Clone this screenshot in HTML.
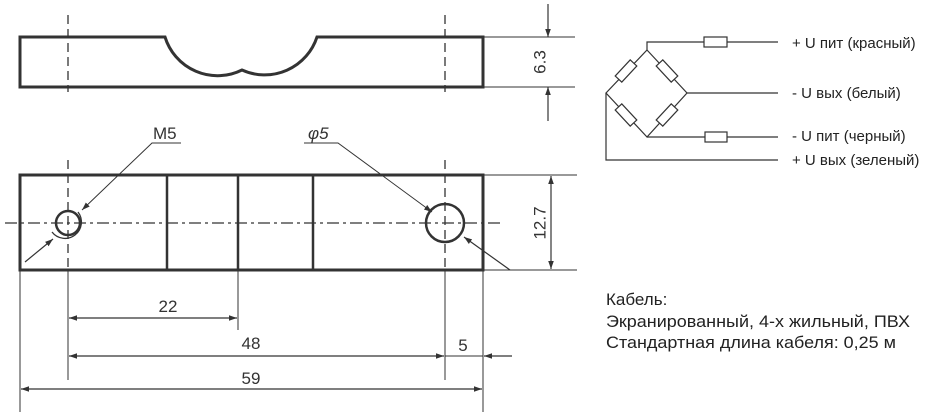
<!DOCTYPE html>
<html><head><meta charset="utf-8"><style>html,body{margin:0;padding:0;background:#fff}svg{display:block}</style></head>
<body>
<svg width="935" height="420" viewBox="0 0 935 420" xmlns="http://www.w3.org/2000/svg" font-family="Liberation Sans, Arial, sans-serif">
<defs>
<marker id="a" viewBox="0 0 10 10" refX="10" refY="5" markerWidth="8" markerHeight="8" orient="auto-start-reverse" markerUnits="userSpaceOnUse"><path d="M0,1.5 L10,5 L0,8.5 z" fill="#333"/></marker>
</defs>
<g stroke="#333" fill="none">
<path d="M20,37 H165 A55,55 0 0 0 242,70 A55,55 0 0 0 317,37 H483 V87 H20 Z" stroke-width="3"/>
<line x1="68" y1="15" x2="68" y2="92" stroke-width="1.3" stroke-dasharray="9,5"/>
<line x1="445" y1="15" x2="445" y2="92" stroke-width="1.3" stroke-dasharray="9,5"/>
<line x1="483" y1="37" x2="575" y2="37" stroke-width="1"/>
<line x1="483" y1="87" x2="575" y2="87" stroke-width="1"/>
<line x1="548" y1="4" x2="548" y2="37" stroke-width="1.2" marker-end="url(#a)"/>
<line x1="548" y1="121" x2="548" y2="87" stroke-width="1.2" marker-end="url(#a)"/>
<rect x="20" y="175" width="463" height="95" stroke-width="3"/>
<line x1="167" y1="175" x2="167" y2="270" stroke-width="2.5"/>
<line x1="238" y1="175" x2="238" y2="270" stroke-width="2.5"/>
<line x1="313" y1="175" x2="313" y2="270" stroke-width="2.5"/>
<line x1="5" y1="223" x2="500" y2="223" stroke-width="1.3" stroke-dasharray="12,4,3,4"/>
<line x1="68" y1="160" x2="68" y2="270" stroke-width="1.3" stroke-dasharray="9,5"/>
<line x1="445" y1="160" x2="445" y2="270" stroke-width="1.3" stroke-dasharray="9,5"/>
<circle cx="68" cy="223" r="12" stroke-width="2.5"/>
<path d="M78,212 A16,16 0 1 1 52,232" stroke-width="1.3"/>
<circle cx="445" cy="223" r="19" stroke-width="2.5"/>
<line x1="483" y1="175" x2="577" y2="175" stroke-width="1"/>
<line x1="483" y1="270" x2="577" y2="270" stroke-width="1"/>
<line x1="551" y1="176" x2="551" y2="269" stroke-width="1.2" marker-start="url(#a)" marker-end="url(#a)"/>
<polyline points="181,143 152,143 82,210" stroke-width="1" marker-end="url(#a)"/>
<line x1="25" y1="262" x2="53" y2="239" stroke-width="1.2" marker-end="url(#a)"/>
<polyline points="304,143 338,143 432,212" stroke-width="1" marker-end="url(#a)"/>
<line x1="510" y1="270" x2="464" y2="237" stroke-width="1.2" marker-end="url(#a)"/>
<line x1="20" y1="270" x2="20" y2="412" stroke-width="1"/>
<line x1="68" y1="270" x2="68" y2="380" stroke-width="1"/>
<line x1="238" y1="270" x2="238" y2="330" stroke-width="1"/>
<line x1="445" y1="270" x2="445" y2="380" stroke-width="1"/>
<line x1="483" y1="270" x2="483" y2="412" stroke-width="1"/>
<line x1="69" y1="318" x2="237" y2="318" stroke-width="1.2" marker-start="url(#a)" marker-end="url(#a)"/>
<line x1="69" y1="356" x2="444" y2="356" stroke-width="1.2" marker-start="url(#a)" marker-end="url(#a)"/>
<line x1="445" y1="356" x2="483" y2="356" stroke-width="1"/>
<line x1="512" y1="356" x2="484" y2="356" stroke-width="1.2" marker-end="url(#a)"/>
<line x1="21" y1="389" x2="482" y2="389" stroke-width="1.2" marker-start="url(#a)" marker-end="url(#a)"/>
<polyline points="647,50 647,42 704,42" stroke-width="1.2"/>
<rect x="704" y="37" width="23" height="10" stroke-width="1.2"/>
<line x1="727" y1="42" x2="778" y2="42" stroke-width="1.2"/>
<polygon points="647,50 687,93 647,137 606,93" stroke-width="1.2"/>
<line x1="687" y1="93" x2="778" y2="93" stroke-width="1.2"/>
<polyline points="647,137 705,137" stroke-width="1.2"/>
<rect x="705" y="132" width="22" height="10" stroke-width="1.2"/>
<line x1="727" y1="137" x2="778" y2="137" stroke-width="1.2"/>
<polyline points="606,93 606,160 778,160" stroke-width="1.2"/>
<g stroke-width="1.2" fill="#fff">
<rect x="-11" y="-4.5" width="22" height="9" transform="translate(626,71) rotate(-47)"/>
<rect x="-11" y="-4.5" width="22" height="9" transform="translate(667,71) rotate(47)"/>
<rect x="-11" y="-4.5" width="22" height="9" transform="translate(626,115) rotate(47)"/>
<rect x="-11" y="-4.5" width="22" height="9" transform="translate(667,115) rotate(-47)"/>
</g>
</g>
<g fill="#333" font-size="17">
<text x="540" y="62" transform="rotate(-90 540 62)" text-anchor="middle" dominant-baseline="central">6.3</text>
<text x="540" y="223" transform="rotate(-90 540 223)" text-anchor="middle" dominant-baseline="central">12.7</text>
<text x="153" y="139">M5</text>
<text x="308" y="139" font-style="italic">φ5</text>
<text x="168" y="312" text-anchor="middle">22</text>
<text x="251" y="349" text-anchor="middle">48</text>
<text x="463" y="351" text-anchor="middle">5</text>
<text x="251" y="384" text-anchor="middle">59</text>
</g>
<g fill="#222" font-size="15">
<text x="792" y="48">+ U пит (красный)</text>
<text x="792" y="98">- U вых (белый)</text>
<text x="792" y="141">- U пит (черный)</text>
<text x="792" y="165">+ U вых (зеленый)</text>
</g>
<g fill="#222" font-size="17">
<text x="606" y="305">Кабель:</text>
<text x="606" y="327" textLength="304" lengthAdjust="spacingAndGlyphs">Экранированный, 4-х жильный, ПВХ</text>
<text x="606" y="348" textLength="290" lengthAdjust="spacingAndGlyphs">Стандартная длина кабеля: 0,25 м</text>
</g>
</svg>
</body></html>
